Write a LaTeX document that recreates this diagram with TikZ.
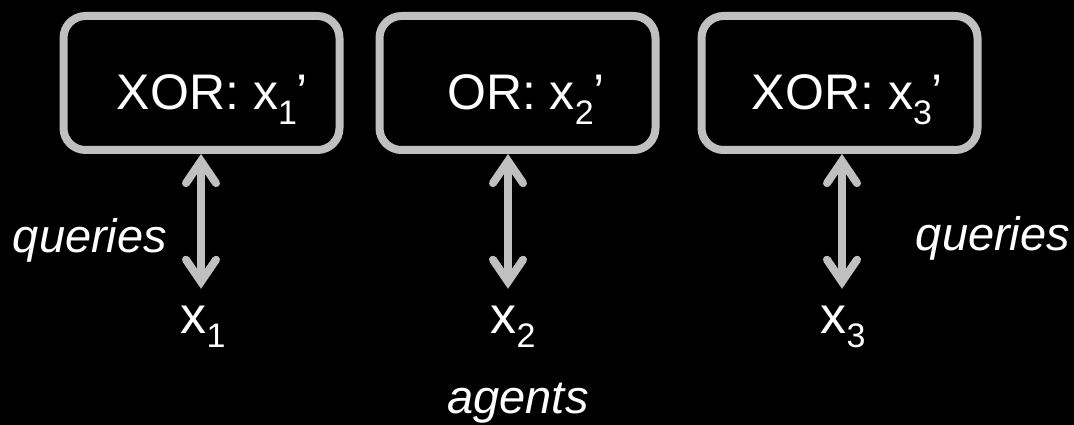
\documentclass[tikz,border=0pt]{standalone}
\usepackage{fontspec}
\setmainfont{Liberation Sans}
\usetikzlibrary{arrows.meta}
\definecolor{edge}{RGB}{192,192,192}
% lowered index in a smaller size: #1 text, #2 drop below the baseline
\newcommand\lowidx[2]{\raisebox{-#2}{\fontsize{34}{34}\selectfont #1}}
\tikzset{vhead/.tip={Straight Barb[length=22pt,width=30pt,line cap=round,line join=miter]}}

\begin{document}
\begin{tikzpicture}[x=1pt,y=-1pt,
  gatebox/.style={draw=edge, line width=8pt, rounded corners=22pt,
    minimum width=276pt, minimum height=134pt, inner sep=0pt, outer sep=4pt,
    text=white, font=\fontsize{50}{60}\selectfont, text height=54pt, text depth=0pt},
  varlabel/.style={text=white, font=\fontsize{52}{60}\selectfont, anchor=base,
    inner xsep=0pt, inner ysep=16pt, text height=28pt, text depth=14pt},
  tag/.style={text=white, font=\fontsize{47}{56}\selectfont\itshape, anchor=base, inner sep=0pt},
  link/.style={draw=edge, line width=8pt, vhead-vhead}]

  % background and page size
  \fill[black] (0,0) rectangle (1074,425);
  \useasboundingbox (0,0) rectangle (1074,425);

  % gate boxes
  \node[gatebox] (b1) at (201.5,83) {\hspace*{22pt}XOR: x\lowidx{1}{15pt}’};
  \node[gatebox] (b2) at (517.5,83) {\hspace*{17pt}OR: x\lowidx{2}{15pt}’};
  \node[gatebox] (b3) at (839.5,83) {\hspace*{16pt}XOR: x\lowidx{3}{15pt}’};

  % input variables
  \node[varlabel] (x1) at (203,333) {x\lowidx{1}{14pt}};
  \node[varlabel] (x2) at (513,333) {x\lowidx{2}{14pt}};
  \node[varlabel] (x3) at (843,333) {x\lowidx{3}{14pt}};

  % query connectors
  \draw[link] ([xshift=-2pt]x1.north) -- ([xshift=-2pt]x1.north |- b1.south);
  \draw[link] ([xshift=-5pt]x2.north) -- ([xshift=-5pt]x2.north |- b2.south);
  \draw[link] ([xshift=-1pt]x3.north) -- ([xshift=-1pt]x3.north |- b3.south);

  % annotations
  \node[tag] (q1) at (90,252) {queries};
  \node[tag] (q3) at (993,250) {queries};
  \node[tag] (ag) at (518,413) {agents};
\end{tikzpicture}
\end{document}
